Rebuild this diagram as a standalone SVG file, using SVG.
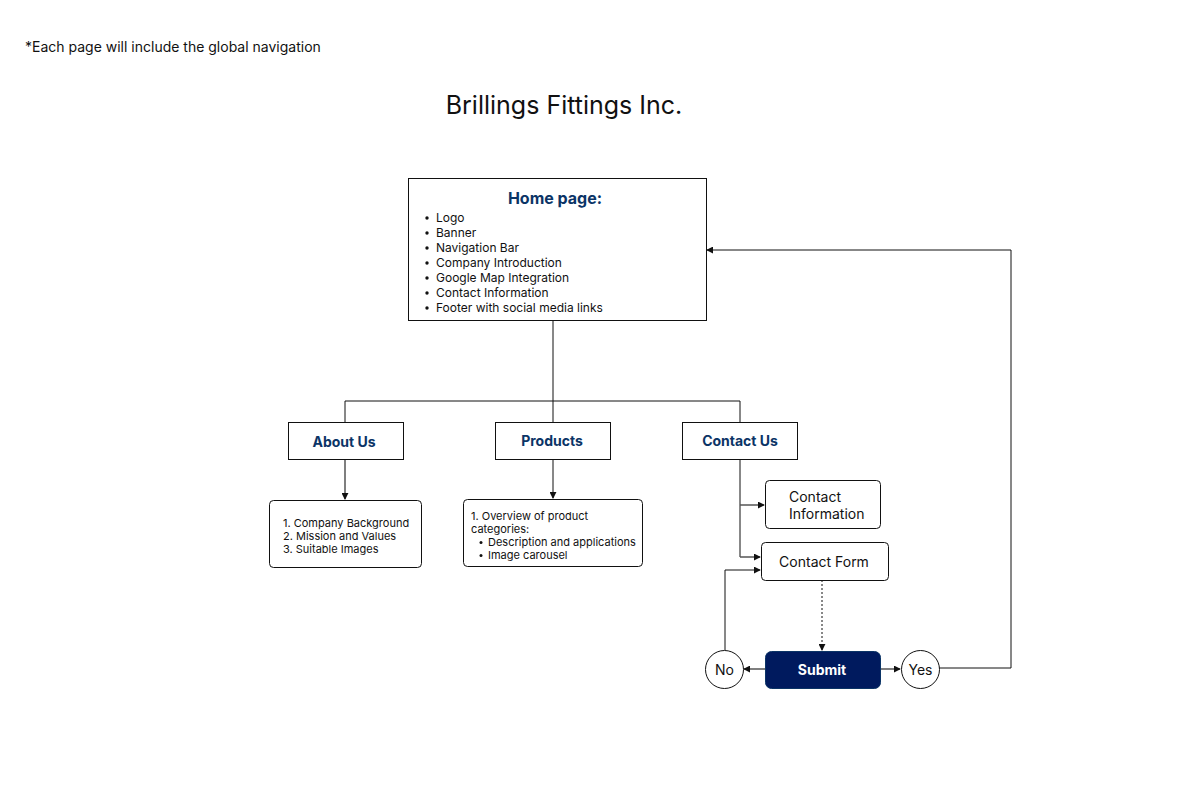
<svg xmlns="http://www.w3.org/2000/svg" width="1178" height="788" viewBox="0 0 1178 788">
<defs>
<style>
text{font-family:Inter,"Noto Sans","Liberation Sans",sans-serif;fill:#111}
.box{fill:#fff;stroke:#111;stroke-width:1}
.hd{font-weight:700;fill:#0b3466;font-size:14px}
.h1{font-weight:700;fill:#0b3466;font-size:16px}
.wt{font-weight:700;fill:#fff;font-size:14px}
.sm{font-size:11px}
.md{font-size:12px}
.ln{fill:none;stroke:#111;stroke-width:1}
.ga{fill:none;stroke:#555;stroke-width:1.5}
</style>
<marker id="ah2" viewBox="0 0 8 8" refX="7" refY="4" markerWidth="7" markerHeight="7" orient="auto" markerUnits="userSpaceOnUse">
<path d="M0,0 L8,4 L0,8 z" fill="#111"/>
</marker>
</defs>
<rect width="1178" height="788" fill="#fff"/>
<text x="25" y="52" font-size="14">*Each page will include the global navigation</text>
<text x="564" y="114" font-size="25" text-anchor="middle">Brillings Fittings Inc.</text>

<g id="connectors">
<path class="ln" d="M553,320 V401 M345,422 V401 H740 V422 M553,401 V422"/>
<path class="ga" d="M345,459 V499" marker-end="url(#ah2)"/>
<path class="ln" d="M553,459 V498" marker-end="url(#ah2)"/>
<path class="ln" d="M740,459 V557"/>
<path class="ga" d="M740,505 H764" marker-end="url(#ah2)"/>
<path class="ga" d="M740,557 H760" marker-end="url(#ah2)"/>
<path class="ln" d="M725,650 V570 H760" marker-end="url(#ah2)"/>
<path class="ln" d="M822,580 V650" marker-end="url(#ah2)" stroke="#777" stroke-width="1.2" stroke-dasharray="2,2"/>
<path class="ga" d="M765,669 H744" marker-end="url(#ah2)"/>
<path class="ga" d="M880,669 H900" marker-end="url(#ah2)"/>
<path class="ln" d="M939,668 H1011 V250 H707" marker-end="url(#ah2)"/>
</g>

<g id="home">
<rect class="box" x="408.5" y="178.5" width="298" height="142"/>
<text class="h1" x="555" y="204" text-anchor="middle">Home page:</text>
<g class="md">
<circle cx="427" cy="218" r="1.7" fill="#111"/><text x="436" y="222">Logo</text>
<circle cx="427" cy="233" r="1.7" fill="#111"/><text x="436" y="237">Banner</text>
<circle cx="427" cy="248" r="1.7" fill="#111"/><text x="436" y="252">Navigation Bar</text>
<circle cx="427" cy="263" r="1.7" fill="#111"/><text x="436" y="267">Company Introduction</text>
<circle cx="427" cy="278" r="1.7" fill="#111"/><text x="436" y="282">Google Map Integration</text>
<circle cx="427" cy="293" r="1.7" fill="#111"/><text x="436" y="297">Contact Information</text>
<circle cx="427" cy="308" r="1.7" fill="#111"/><text x="436" y="312">Footer with social media links</text>
</g>
</g>

<g id="about">
<rect class="box" x="288.5" y="422.5" width="115" height="37"/>
<text class="hd" x="344" y="446.5" text-anchor="middle">About Us</text>
</g>
<g id="products">
<rect class="box" x="495.5" y="422.5" width="115" height="37"/>
<text class="hd" x="552" y="446" text-anchor="middle">Products</text>
</g>
<g id="contact">
<rect class="box" x="682.5" y="422.5" width="115" height="37"/>
<text class="hd" x="740" y="446" text-anchor="middle">Contact Us</text>
</g>

<g id="about-details">
<rect class="box" x="269.5" y="500.5" width="152" height="67" rx="4"/>
<text class="sm" x="283" y="527">1. Company Background</text>
<text class="sm" x="283" y="540">2. Mission and Values</text>
<text class="sm" x="283" y="553">3. Suitable Images</text>
</g>
<g id="products-details">
<rect class="box" x="463.5" y="499.5" width="179" height="67" rx="4"/>
<text class="sm" x="471" y="520">1. Overview of product</text>
<text class="sm" x="471" y="533">categories:</text>
<circle cx="481" cy="542.5" r="1.5" fill="#111"/><text class="sm" x="488" y="546">Description and applications</text>
<circle cx="481" cy="555.5" r="1.5" fill="#111"/><text class="sm" x="488" y="559">Image carousel</text>
</g>
<g id="contact-info">
<rect class="box" x="765.5" y="480.5" width="115" height="48" rx="4"/>
<text x="789" y="502" font-size="14">Contact</text>
<text x="789" y="519" font-size="14">Information</text>
</g>
<g id="contact-form">
<rect class="box" x="761.5" y="542.5" width="127" height="38" rx="4"/>
<text x="824" y="567" font-size="14" text-anchor="middle">Contact Form</text>
</g>
<g id="submit">
<rect x="765.5" y="651.5" width="115" height="37" rx="6" fill="#001a5e" stroke="#0b3466"/>
<text class="wt" x="822" y="675" text-anchor="middle">Submit</text>
</g>
<g id="no">
<circle class="box" cx="724.5" cy="669.5" r="19"/>
<text x="724.5" y="674.5" font-size="14" text-anchor="middle">No</text>
</g>
<g id="yes">
<circle class="box" cx="920.5" cy="669.5" r="19"/>
<text x="920.5" y="674.5" font-size="14" text-anchor="middle">Yes</text>
</g>
</svg>
